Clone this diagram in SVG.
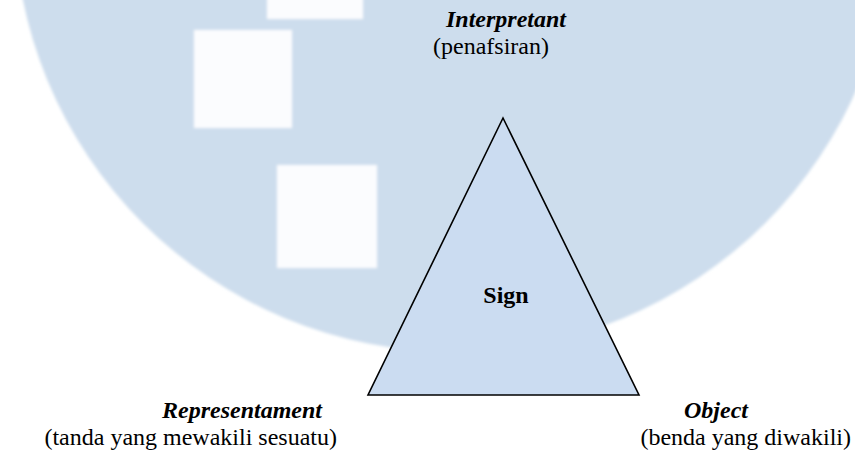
<svg xmlns="http://www.w3.org/2000/svg" width="855" height="458" viewBox="0 0 855 458">
  <style>
    text { font-family: "Liberation Serif", "Times New Roman", "DejaVu Serif", serif; font-size: 24px; fill: #000; }
    .title { font-weight: bold; font-style: italic; }
    .sign { font-weight: bold; }
    .tri { fill: #cbdcf1; stroke: #000; stroke-width: 1.6; stroke-linejoin: miter; }
  </style>
  <defs>
    <filter id="soft" x="-5%" y="-5%" width="110%" height="110%">
      <feGaussianBlur stdDeviation="1.4"/>
    </filter>
  </defs>

  <rect width="855" height="458" fill="#ffffff"/>

  <!-- faded background emblem -->
  <g id="emblem" filter="url(#soft)">
    <circle cx="454" cy="-88" r="440" fill="#cddded"/>
    <rect x="267" y="-5" width="96" height="24" fill="#fbfcfe"/>
    <rect x="194" y="30" width="98" height="98" fill="#fbfcfe"/>
    <rect x="277" y="165" width="100" height="103" fill="#fbfcfe"/>
  </g>

  <!-- triangle shape -->
  <g id="connectors">
    <polygon class="tri" points="503,118 368,395 639,395"/>
  </g>

  <g id="sign">
    <text class="sign" x="506" y="303" text-anchor="middle" font-family="Liberation Serif, serif">Sign</text>
  </g>

  <g id="interpretant">
    <text class="title" x="506" y="27" text-anchor="middle" font-family="Liberation Serif, serif">Interpretant</text>
    <text x="491" y="54" text-anchor="middle" font-family="Liberation Serif, serif">(penafsiran)</text>
  </g>

  <g id="representament">
    <text class="title" x="322" y="418" text-anchor="end" font-family="Liberation Serif, serif">Representament</text>
    <text x="337" y="445" text-anchor="end" font-family="Liberation Serif, serif">(tanda yang mewakili sesuatu)</text>
  </g>

  <g id="object">
    <text class="title" x="716" y="418" text-anchor="middle" font-family="Liberation Serif, serif">Object</text>
    <text x="851" y="445" text-anchor="end" font-family="Liberation Serif, serif">(benda yang diwakili)</text>
  </g>
</svg>
